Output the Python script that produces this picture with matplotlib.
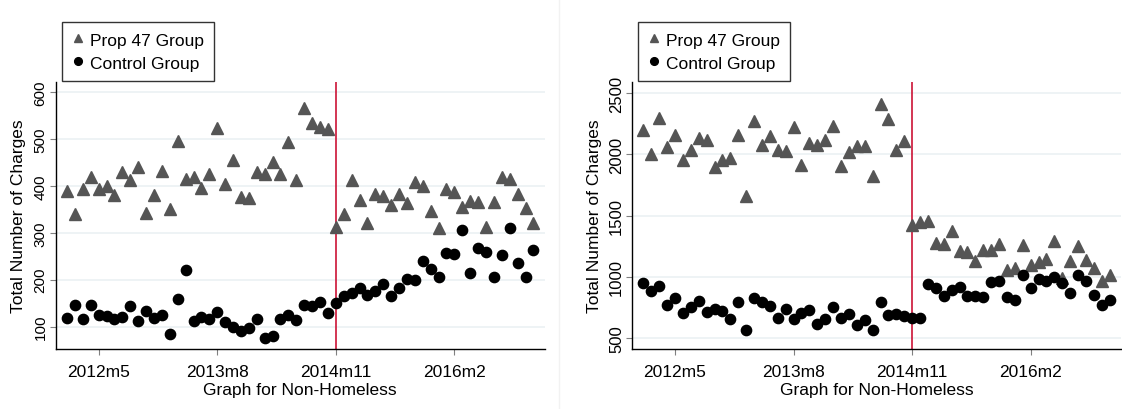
import matplotlib
matplotlib.use("Agg")
import matplotlib.pyplot as plt
from matplotlib.lines import Line2D

plt.rcParams['font.family'] = ['Liberation Sans', 'DejaVu Sans']

# Monthly periods, 2012m1 .. 2016m12 (Stata-style labels)
months = [f"{y}m{m}" for y in range(2012, 2017) for m in range(1, 13)]
tick_labels = ["2012m5", "2013m8", "2014m11", "2016m2"]
policy_month = "2014m11"

# Panel 1: total charges
prop47_a = [390, 341, 393, 420, 393, 401, 380, 429, 412, 441,
            343, 381, 433, 351, 497, 414, 420, 395, 426, 524,
            404, 456, 376, 374, 429, 426, 451, 426, 493, 412,
            566, 534, 527, 522, 313, 340, 412, 371, 321, 382,
            378, 360, 382, 364, 408, 399, 347, 311, 394, 387,
            355, 367, 365, 312, 365, 420, 415, 382, 352, 322]
control_a = [119, 146, 116, 146, 125, 123, 115, 120, 143, 111,
             133, 119, 124, 84, 158, 220, 111, 121, 116, 132,
             109, 100, 90, 97, 116, 76, 80, 116, 125, 113,
             146, 143, 153, 128, 150, 165, 172, 183, 168, 176,
             190, 165, 182, 202, 200, 239, 222, 206, 256, 254,
             306, 214, 268, 259, 206, 253, 310, 235, 205, 263]

# Panel 2: total charges
prop47_b = [2201, 2005, 2296, 2056, 2160, 1956, 2037, 2133, 2119, 1893,
            1956, 1967, 2157, 1656, 2271, 2073, 2152, 2032, 2027, 2220,
            1915, 2095, 2078, 2114, 2233, 1908, 2016, 2065, 2065, 1820,
            2410, 2288, 2037, 2105, 1425, 1444, 1452, 1276, 1270, 1371,
            1207, 1199, 1131, 1216, 1221, 1268, 1052, 1071, 1257, 1096,
            1118, 1148, 1289, 990, 1126, 1248, 1140, 1071, 963, 1017]
control_b = [949, 881, 922, 767, 827, 704, 750, 799, 712, 740,
             718, 658, 794, 568, 824, 794, 764, 663, 737, 655,
             701, 731, 614, 652, 753, 663, 696, 603, 650, 563,
             794, 690, 699, 682, 663, 663, 944, 908, 846, 895,
             916, 840, 846, 832, 957, 963, 832, 808, 1012, 908,
             984, 968, 998, 949, 867, 1012, 963, 848, 772, 813]

yticks_a = [100, 200, 300, 400, 500, 600]
yticks_b = [500, 1000, 1500, 2000, 2500]

TRI = '#555555'
DOT = '#000000'
RED = '#cc1336'
GRID = '#e9f0f2'

W, H = 1122, 410
fig = plt.figure(figsize=(W / 100, H / 100), dpi=100)

# faint divider between the two graphs
fig.add_artist(Line2D([559 / W, 559 / W], [0, 1], transform=fig.transFigure,
                      color='#f2f2f2', lw=1))

x = list(range(len(months)))


def panel(left_px, prop, ctrl, yticks, ylim, legend_left_px, ytick_size):
    ax = fig.add_axes([left_px / W, 60 / H, 488.5 / W, 267 / H])
    ax.set_xlim(-1.4, 60.4)
    ax.set_ylim(*ylim)
    for yv in yticks:
        ax.axhline(yv, color=GRID, lw=1.1, zorder=0)
    ax.axvline(months.index(policy_month), color=RED, lw=1.2, zorder=1)
    h1, = ax.plot(x, prop, linestyle='none', marker='^', ms=8.4,
                  color=TRI, mec=TRI, zorder=3, label='Prop 47 Group')
    h2, = ax.plot(x, ctrl, linestyle='none', marker='o', ms=7.4,
                  color=DOT, mec=DOT, zorder=3, label='Control Group')

    ax.set_xticks([months.index(t) for t in tick_labels])
    ax.set_xticklabels(tick_labels, fontsize=12.5)
    ax.set_yticks(yticks)
    ax.set_yticklabels([str(v) for v in yticks], fontsize=ytick_size,
                       rotation=90, va='center')
    ax.tick_params(axis='both', direction='out', length=4, width=0.8,
                   color='#808080')
    ax.tick_params(axis='x', pad=7)
    ax.tick_params(axis='y', pad=2)

    for s in ('top', 'right'):
        ax.spines[s].set_visible(False)
    for s in ('left', 'bottom'):
        ax.spines[s].set_linewidth(1.0)
        ax.spines[s].set_color('black')

    ax.set_xlabel('Graph for Non-Homeless', fontsize=12.5, labelpad=2)
    ax.set_ylabel('Total Number of Charges', fontsize=12.5)
    ax.yaxis.set_label_coords(-0.062, 0.5)

    leg = ax.legend(handles=[h1, h2], loc='upper left',
                    bbox_to_anchor=(legend_left_px / W, 1 - 23 / H),
                    bbox_transform=fig.transFigure, borderaxespad=0,
                    fontsize=12.5, frameon=True, fancybox=False,
                    markerscale=0.75, handlelength=0.6, handletextpad=0.4,
                    borderpad=0.6, labelspacing=0.45)
    leg.get_frame().set_edgecolor('black')
    leg.get_frame().set_linewidth(1.0)
    return ax


panel(56, prop47_a, control_a, yticks_a, (52, 622), 62, 11)
panel(632.3, prop47_b, control_b, yticks_b, (410, 2590), 638, 12)

fig.savefig('out.png', dpi=100, facecolor='white')
